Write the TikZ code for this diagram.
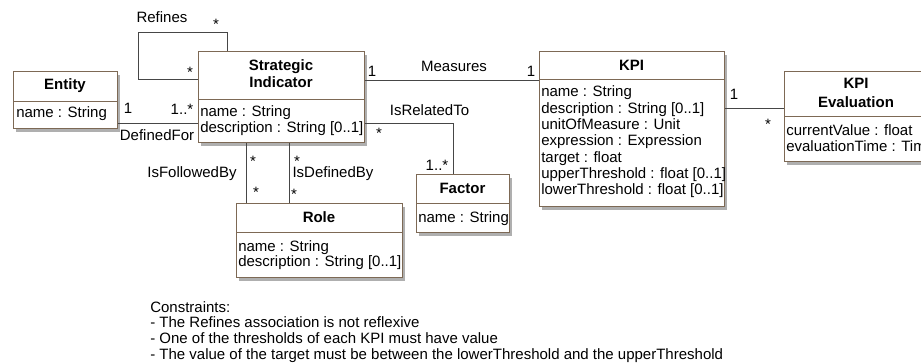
\documentclass[tikz,border=0pt]{standalone}
\usepackage{fontspec}
\setmainfont{Liberation Sans}
\usetikzlibrary{fit,shadows}
\definecolor{umlborder}{RGB}{125,105,85}
\definecolor{umlline}{RGB}{70,70,70}
\definecolor{umlshadow}{RGB}{175,175,175}
\begin{document}
\begin{tikzpicture}[x=0.75pt,y=-0.75pt,
  font=\fontsize{11.25}{12.2}\selectfont,
  box/.style={draw=umlborder, line width=0.75pt, fill=white, inner sep=0pt,
    drop shadow={shadow xshift=2.4pt, shadow yshift=-2.4pt, fill=umlshadow, opacity=1}},
  divider/.style={draw=umlborder, line width=0.75pt},
  head/.style={font=\fontsize{11.25}{12.2}\selectfont\bfseries, anchor=base, inner sep=0pt},
  attr/.style={anchor=base west, inner sep=0pt},
  lbl/.style={anchor=base, inner sep=0pt},
  note/.style={anchor=base west, inner sep=0pt},
  assoc/.style={draw=umlline, line width=0.75pt}]
\useasboundingbox (0,0) rectangle (921,363);
\clip (0,0) rectangle (921,363);

% ---------- class boxes ----------
\node[box, fit={(13,72) (117,129)}] (ent) {};
\draw[divider] (13,102) -- (117,102);
\node[head] (entN) at (65,89.5) {Entity};
\node[attr] (entA1) at (16,118) {name : String};

\node[box, fit={(198,52) (364,143)}] (si) {};
\draw[divider] (198,100) -- (364,100);
\node[head] (siN1) at (281,70.5) {Strategic};
\node[head] (siN2) at (281,87.5) {Indicator};
\node[attr] (siA1) at (200,117) {name : String};
\node[attr] (siA2) at (200,133) {description : String [0..1]};

\node[box, fit={(539,52) (724,207)}] (kpi) {};
\draw[divider] (539,80) -- (724,80);
\node[head] (kpiN) at (631.5,70.5) {KPI};
\foreach \t [count=\i] in {{name : String},{description : String [0..1]},{unitOfMeasure : Unit},{expression : Expression},{target : float},{upperThreshold : float [0..1]},{lowerThreshold : float [0..1]}}
  \node[attr] (kpiA\i) at (541,{97+(\i-1)*16.3}) {\t};

\node[box, fit={(784,72) (928,162)}] (eval) {};
\draw[divider] (784,117) -- (928,117);
\node[head] (evalN1) at (856,88.5) {KPI};
\node[head] (evalN2) at (856,107.5) {Evaluation};
\node[attr] (evalA1) at (786,136) {currentValue : float};
\node[attr] (evalA2) at (786,152) {evaluationTime : Time};

\node[box, fit={(416,175) (509,233)}] (fac) {};
\draw[divider] (416,204) -- (509,204);
\node[head] (facN) at (462.5,193.5) {Factor};
\node[attr] (facA1) at (418,223) {name : String};

\node[box, fit={(236,204) (402,278)}] (role) {};
\draw[divider] (236,233) -- (402,233);
\node[head] (roleN) at (319,222.5) {Role};
\node[attr] (roleA1) at (238,252) {name : String};
\node[attr] (roleA2) at (238,267) {description : String [0..1]};

% ---------- helper coordinates ----------
\coordinate (dfy) at (0,124);
\coordinate (rfy) at (0,80);
\coordinate (rfA) at (138,33);
\coordinate (rfB) at (227,33);
\coordinate (msy) at (0,81);
\coordinate (irt) at (453,124);
\coordinate (ifb) at (246,0);
\coordinate (idb) at (289,0);
\coordinate (evy) at (0,109);

% ---------- associations ----------
\draw[assoc] (ent.east |- dfy) -- (si.west |- dfy);
\draw[assoc] (si.west |- rfy) -| (rfA) -- (rfB) -- (si.north -| rfB);
\draw[assoc] (si.east |- msy) -- (kpi.west |- msy);
\draw[assoc] (si.east |- irt) -- (irt) -- (fac.north -| irt);
\draw[assoc] (si.south -| ifb) -- (role.north -| ifb);
\draw[assoc] (si.south -| idb) -- (role.north -| idb);
\draw[assoc] (kpi.east |- evy) -- (eval.west |- evy);

% ---------- labels ----------
\node[lbl] (lRef) at (162,23) {Refines};
\node[lbl] (lRefS1) at (216,30) {*};
\node[lbl] (lRefS2) at (190,78) {*};
\node[lbl] (lDf1) at (128,114) {1};
\node[lbl] (lDf2) at (182,114.5) {1..*};
\node[lbl] (lDf) at (157,141) {DefinedFor};
\node[lbl] (lMs1) at (372,77) {1};
\node[lbl] (lMs) at (454,72) {Measures};
\node[lbl] (lMs2) at (531,77) {1};
\node[lbl] (lIrt) at (429.5,116) {IsRelatedTo};
\node[lbl] (lIrt1) at (379,138.5) {*};
\node[lbl] (lIrt2) at (437,171) {1..*};
\node[lbl] (lIfb) at (192,178) {IsFollowedBy};
\node[lbl] (lIfb1) at (253,166.5) {*};
\node[lbl] (lIfb2) at (256,197.5) {*};
\node[lbl] (lIdb1) at (297,166.5) {*};
\node[lbl] (lIdb) at (333,178) {IsDefinedBy};
\node[lbl] (lIdb2) at (294,199.5) {*};
\node[lbl] (lEv1) at (734,100) {1};
\node[lbl] (lEv2) at (768,129.5) {*};

% ---------- constraints ----------
\node[note] (c0) at (150,312) {Constraints:};
\node[note] (c1) at (150,328) {- The Refines association is not reflexive};
\node[note] (c2) at (150,344) {- One of the thresholds of each KPI must have value};
\node[note] (c3) at (150,359.5) {- The value of the target must be between the lowerThreshold and the upperThreshold};
\end{tikzpicture}
\end{document}
